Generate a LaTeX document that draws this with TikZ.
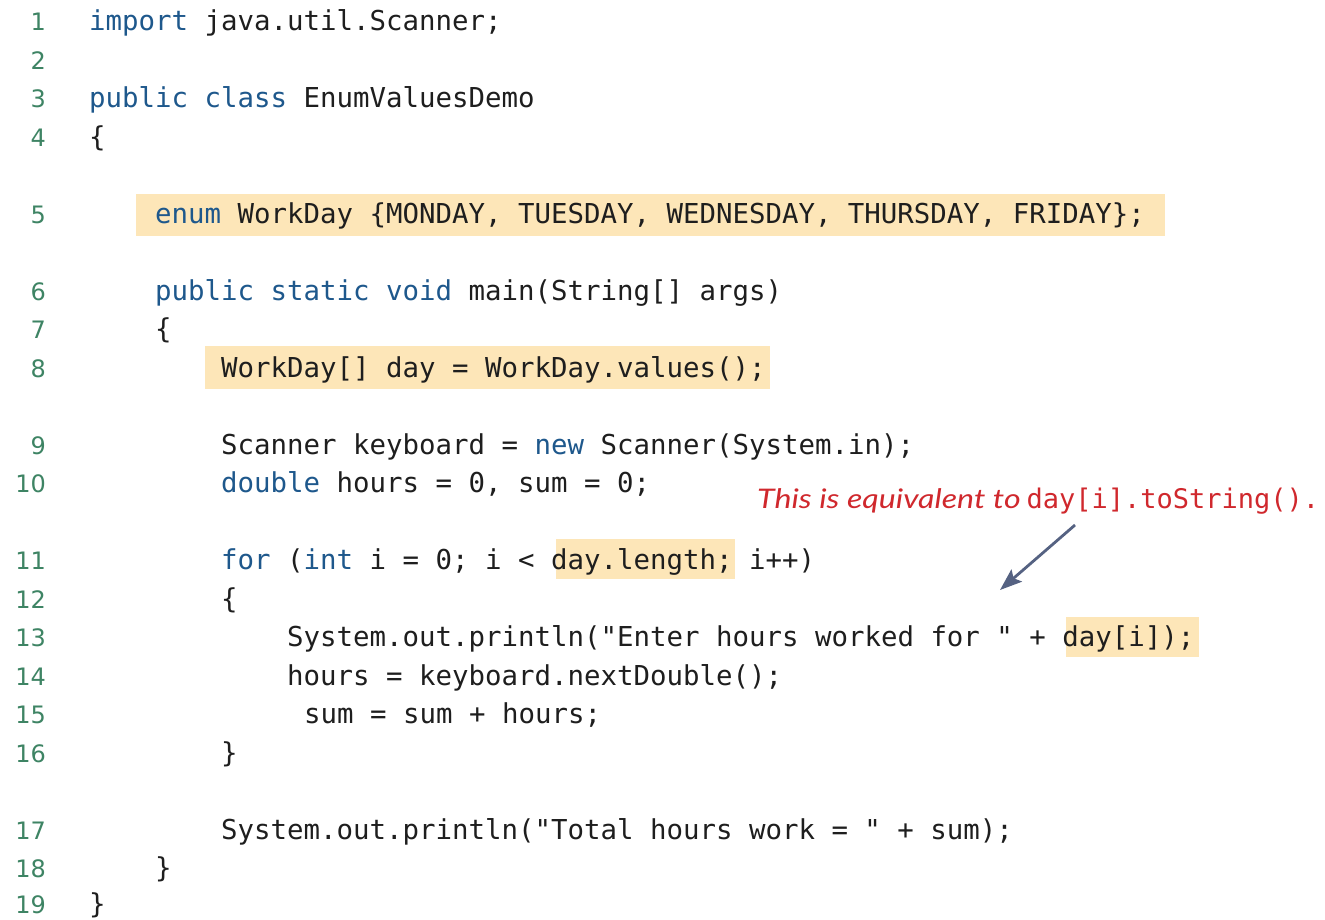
\documentclass[tikz,border=0pt]{standalone}
\usepackage{fontspec}
\usetikzlibrary{arrows.meta}
\newfontfamily\codefont{DejaVu Sans Mono}
\newfontfamily\numfont{DejaVu Sans}
\newfontfamily\notefont{Lato}
\definecolor{kwblue}{RGB}{30,88,140}
\definecolor{numgreen}{RGB}{62,132,100}
\definecolor{codeink}{RGB}{30,30,30}
\definecolor{hilite}{RGB}{253,230,184}
\definecolor{notered}{RGB}{208,40,45}
\definecolor{arrowslate}{RGB}{85,98,130}
\newcommand{\kw}[1]{\textcolor{kwblue}{#1}}
\tikzset{
  codeline/.style={anchor=base west, inner sep=0pt, text=codeink,
    font=\codefont\fontsize{27.4}{30}\selectfont},
  lineno/.style={anchor=base east, inner sep=0pt, text=numgreen,
    font=\numfont\fontsize{24}{28}\selectfont},
  hibox/.style={fill=hilite, draw=none},
  notetext/.style={anchor=base west, inner sep=0pt, text=notered},
  pointer/.style={draw=arrowslate, line width=2.8pt,
    -{Stealth[length=22pt, width=16pt, inset=4pt]}}
}
\begin{document}
\begin{tikzpicture}[x=1pt, y=-1pt]
  \useasboundingbox (0,0) rectangle (1325,919);
  \fill[white] (0,0) rectangle (1325,919);

  % highlighted spans
  \fill[hibox] (136,194) rectangle (1165,236);
  \fill[hibox] (205,346) rectangle (770,389);
  \fill[hibox] (556,539) rectangle (735,579);
  \fill[hibox] (1066,617) rectangle (1199,657);

  % line numbers
  \foreach \n/\b in {1/30.5, 2/69, 3/107.5, 4/146, 5/223, 6/300, 7/338.5,
                     8/377, 9/454, 10/492.5, 11/569.5, 12/608, 13/646.5,
                     14/685, 15/723.5, 16/762, 17/839, 18/877.5, 19/913}
    \node[lineno] (n\n) at (46,\b) {\n};

  % source text
  \node[codeline] (l1)  at (89,30.5)   {\kw{import} java.util.Scanner;};
  \node[codeline] (l3)  at (89,107.5)  {\kw{public} \kw{class} EnumValuesDemo};
  \node[codeline] (l4)  at (89,146)    {\{};
  \node[codeline] (l5)  at (155,223)   {\kw{enum} WorkDay \{MONDAY, TUESDAY, WEDNESDAY, THURSDAY, FRIDAY\};};
  \node[codeline] (l6)  at (155,300)   {\kw{public} \kw{static} \kw{void} main(String[] args)};
  \node[codeline] (l7)  at (155,338.5) {\{};
  \node[codeline] (l8)  at (221,377)   {WorkDay[] day = WorkDay.values();};
  \node[codeline] (l9)  at (221,454)   {Scanner keyboard = \kw{new} Scanner(System.in);};
  \node[codeline] (l10) at (221,492.5) {\kw{double} hours = 0, sum = 0;};
  \node[codeline] (l11) at (221,569.5) {\kw{for} (\kw{int} i = 0; i < day.length; i++)};
  \node[codeline] (l12) at (221,608)   {\{};
  \node[codeline] (l13) at (287,646.5) {System.out.println("Enter hours worked for " + day[i]);};
  \node[codeline] (l14) at (287,685)   {hours = keyboard.nextDouble();};
  \node[codeline] (l15) at (304,723.5) {sum = sum + hours;};
  \node[codeline] (l16) at (221,762)   {\}};
  \node[codeline] (l17) at (221,839)   {System.out.println("Total hours work = " + sum);};
  \node[codeline] (l18) at (155,877.5) {\}};
  \node[codeline] (l19) at (89,913)    {\}};

  % margin note and its pointer
  \node[notetext] (note) at (757,508)
    {\scalebox{1.19}[1]{\notefont\itshape\fontsize{27}{30}\selectfont This is equivalent to}\hspace{6pt}%
     {\codefont\fontsize{27}{30}\selectfont day[i].toString().}};
  \coordinate (tail) at (1075,525);
  \coordinate (tip) at (1000,590);
  \draw[pointer] (tail) -- (tip);
\end{tikzpicture}
\end{document}
